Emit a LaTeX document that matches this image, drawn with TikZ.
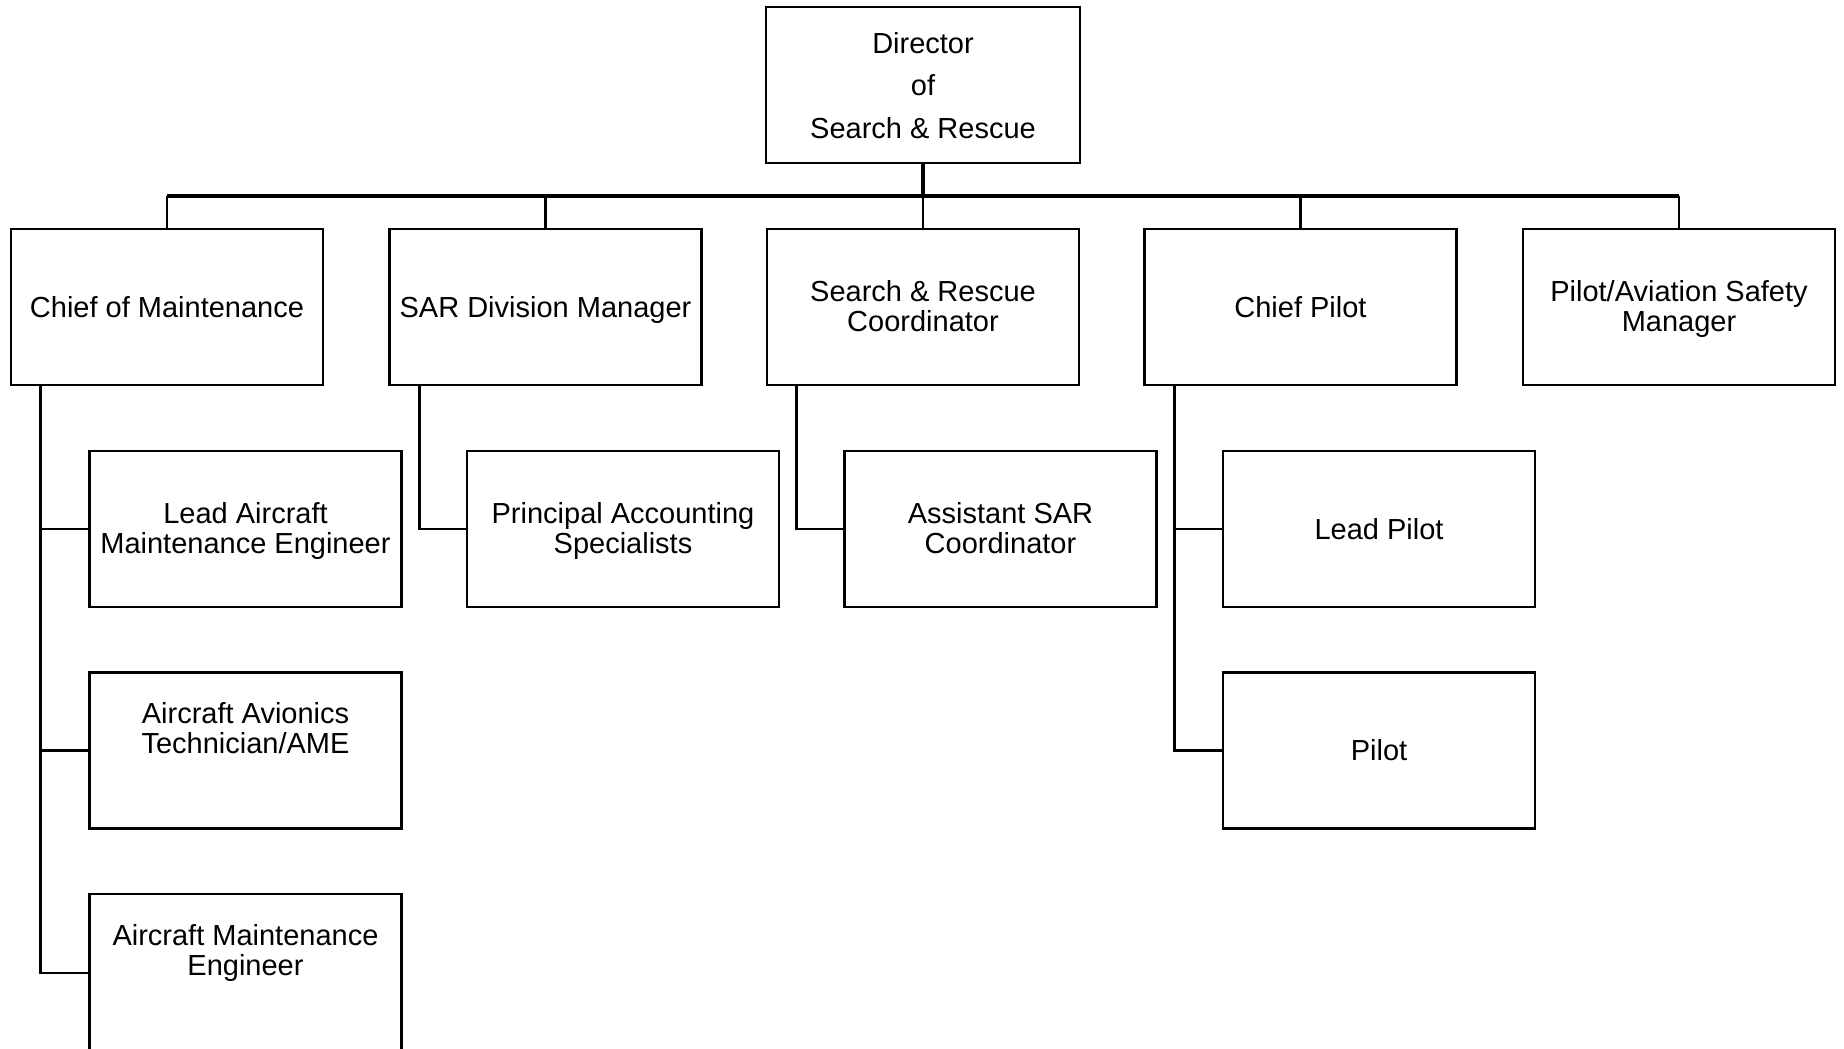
\documentclass[tikz,border=0pt]{standalone}
\usepackage{fontspec}
\setmainfont{Liberation Sans}
\begin{document}
\begin{tikzpicture}[x=1pt,y=-1pt,
  box/.style={draw, line width=2.6pt, rectangle, minimum width=312pt, minimum height=156pt, inner sep=0pt},
  txt/.style={font=\fontsize{29}{30}\selectfont, align=center, anchor=base, inner sep=0pt},
  conn/.style={line width=2.6pt},
  bus/.style={line width=3.6pt}]
\useasboundingbox (0,0) rectangle (1844,1049);

% boxes
\node[box, minimum width=314pt] (dir) at (923,85) {};
\node[box] (com) at (167,307) {};
\node[box] (sdm) at (545.5,307) {};
\node[box] (src) at (923,307) {};
\node[box] (cp)  at (1300.5,307) {};
\node[box] (pas) at (1679,307) {};

\node[box] (lam) at (245.5,529) {};
\node[box] (aat) at (245.5,750.5) {};
\node[box, minimum height=158pt] (ame) at (245.5,973) {};
\node[box] (pas2) at (623,529) {};
\node[box] (asc) at (1000.5,529) {};
\node[box] (lp)  at (1379,529) {};
\node[box] (pil) at (1379,750.5) {};

% texts (anchor=base is the baseline of the last line)
\node[txt, font=\fontsize{29}{42.5}\selectfont] (dirt) at ([yshift=-132.5pt]dir.north) {Director\\of\\Search \& Rescue};
\node[txt] (comt) at ([yshift=-89.5pt]com.north) {Chief of Maintenance};
\node[txt] (sdmt) at ([yshift=-89.5pt]sdm.north) {SAR Division Manager};
\node[txt] (srct) at ([yshift=-103.5pt]src.north) {Search \& Rescue\\Coordinator};
\node[txt] (cpt)  at ([yshift=-89.5pt]cp.north) {Chief Pilot};
\node[txt] (past) at ([yshift=-104pt]pas.north) {Pilot/Aviation Safety\\Manager};
\node[txt] (lamt) at ([yshift=-103.5pt]lam.north) {Lead Aircraft\\Maintenance Engineer};
\node[txt] (aatt) at ([yshift=-82.5pt]aat.north) {Aircraft Avionics\\Technician/AME};
\node[txt] (amet) at ([yshift=-82.5pt]ame.north) {Aircraft Maintenance\\Engineer};
\node[txt] (pas2t) at ([yshift=-103.5pt]pas2.north) {Principal Accounting\\Specialists};
\node[txt] (asct) at ([yshift=-103.5pt]asc.north) {Assistant SAR\\Coordinator};
\node[txt] (lpt)  at ([yshift=-89.5pt]lp.north) {Lead Pilot};
\node[txt] (pilt) at ([yshift=-89.5pt]pil.north) {Pilot};

% bus
\coordinate (busM) at (923,196);
\draw[bus] (dir.south) -- (busM);
\draw[bus] (com.north |- busM) -- (pas.north |- busM);
\foreach \n in {com,sdm,src,cp,pas}
  \draw[conn] (\n.north) -- (\n.north |- busM);

% children
\draw[conn] ([xshift=31pt]com.south west) |- (lam.west);
\draw[conn] ([xshift=31pt]com.south west) |- (aat.west);
\draw[conn] ([xshift=31pt]com.south west) |- (ame.west);
\draw[conn] ([xshift=31pt]sdm.south west) |- (pas2.west);
\draw[conn] ([xshift=31pt]src.south west) |- (asc.west);
\draw[conn] ([xshift=31pt]cp.south west) |- (lp.west);
\draw[conn] ([xshift=31pt]cp.south west) |- (pil.west);
\end{tikzpicture}
\end{document}
